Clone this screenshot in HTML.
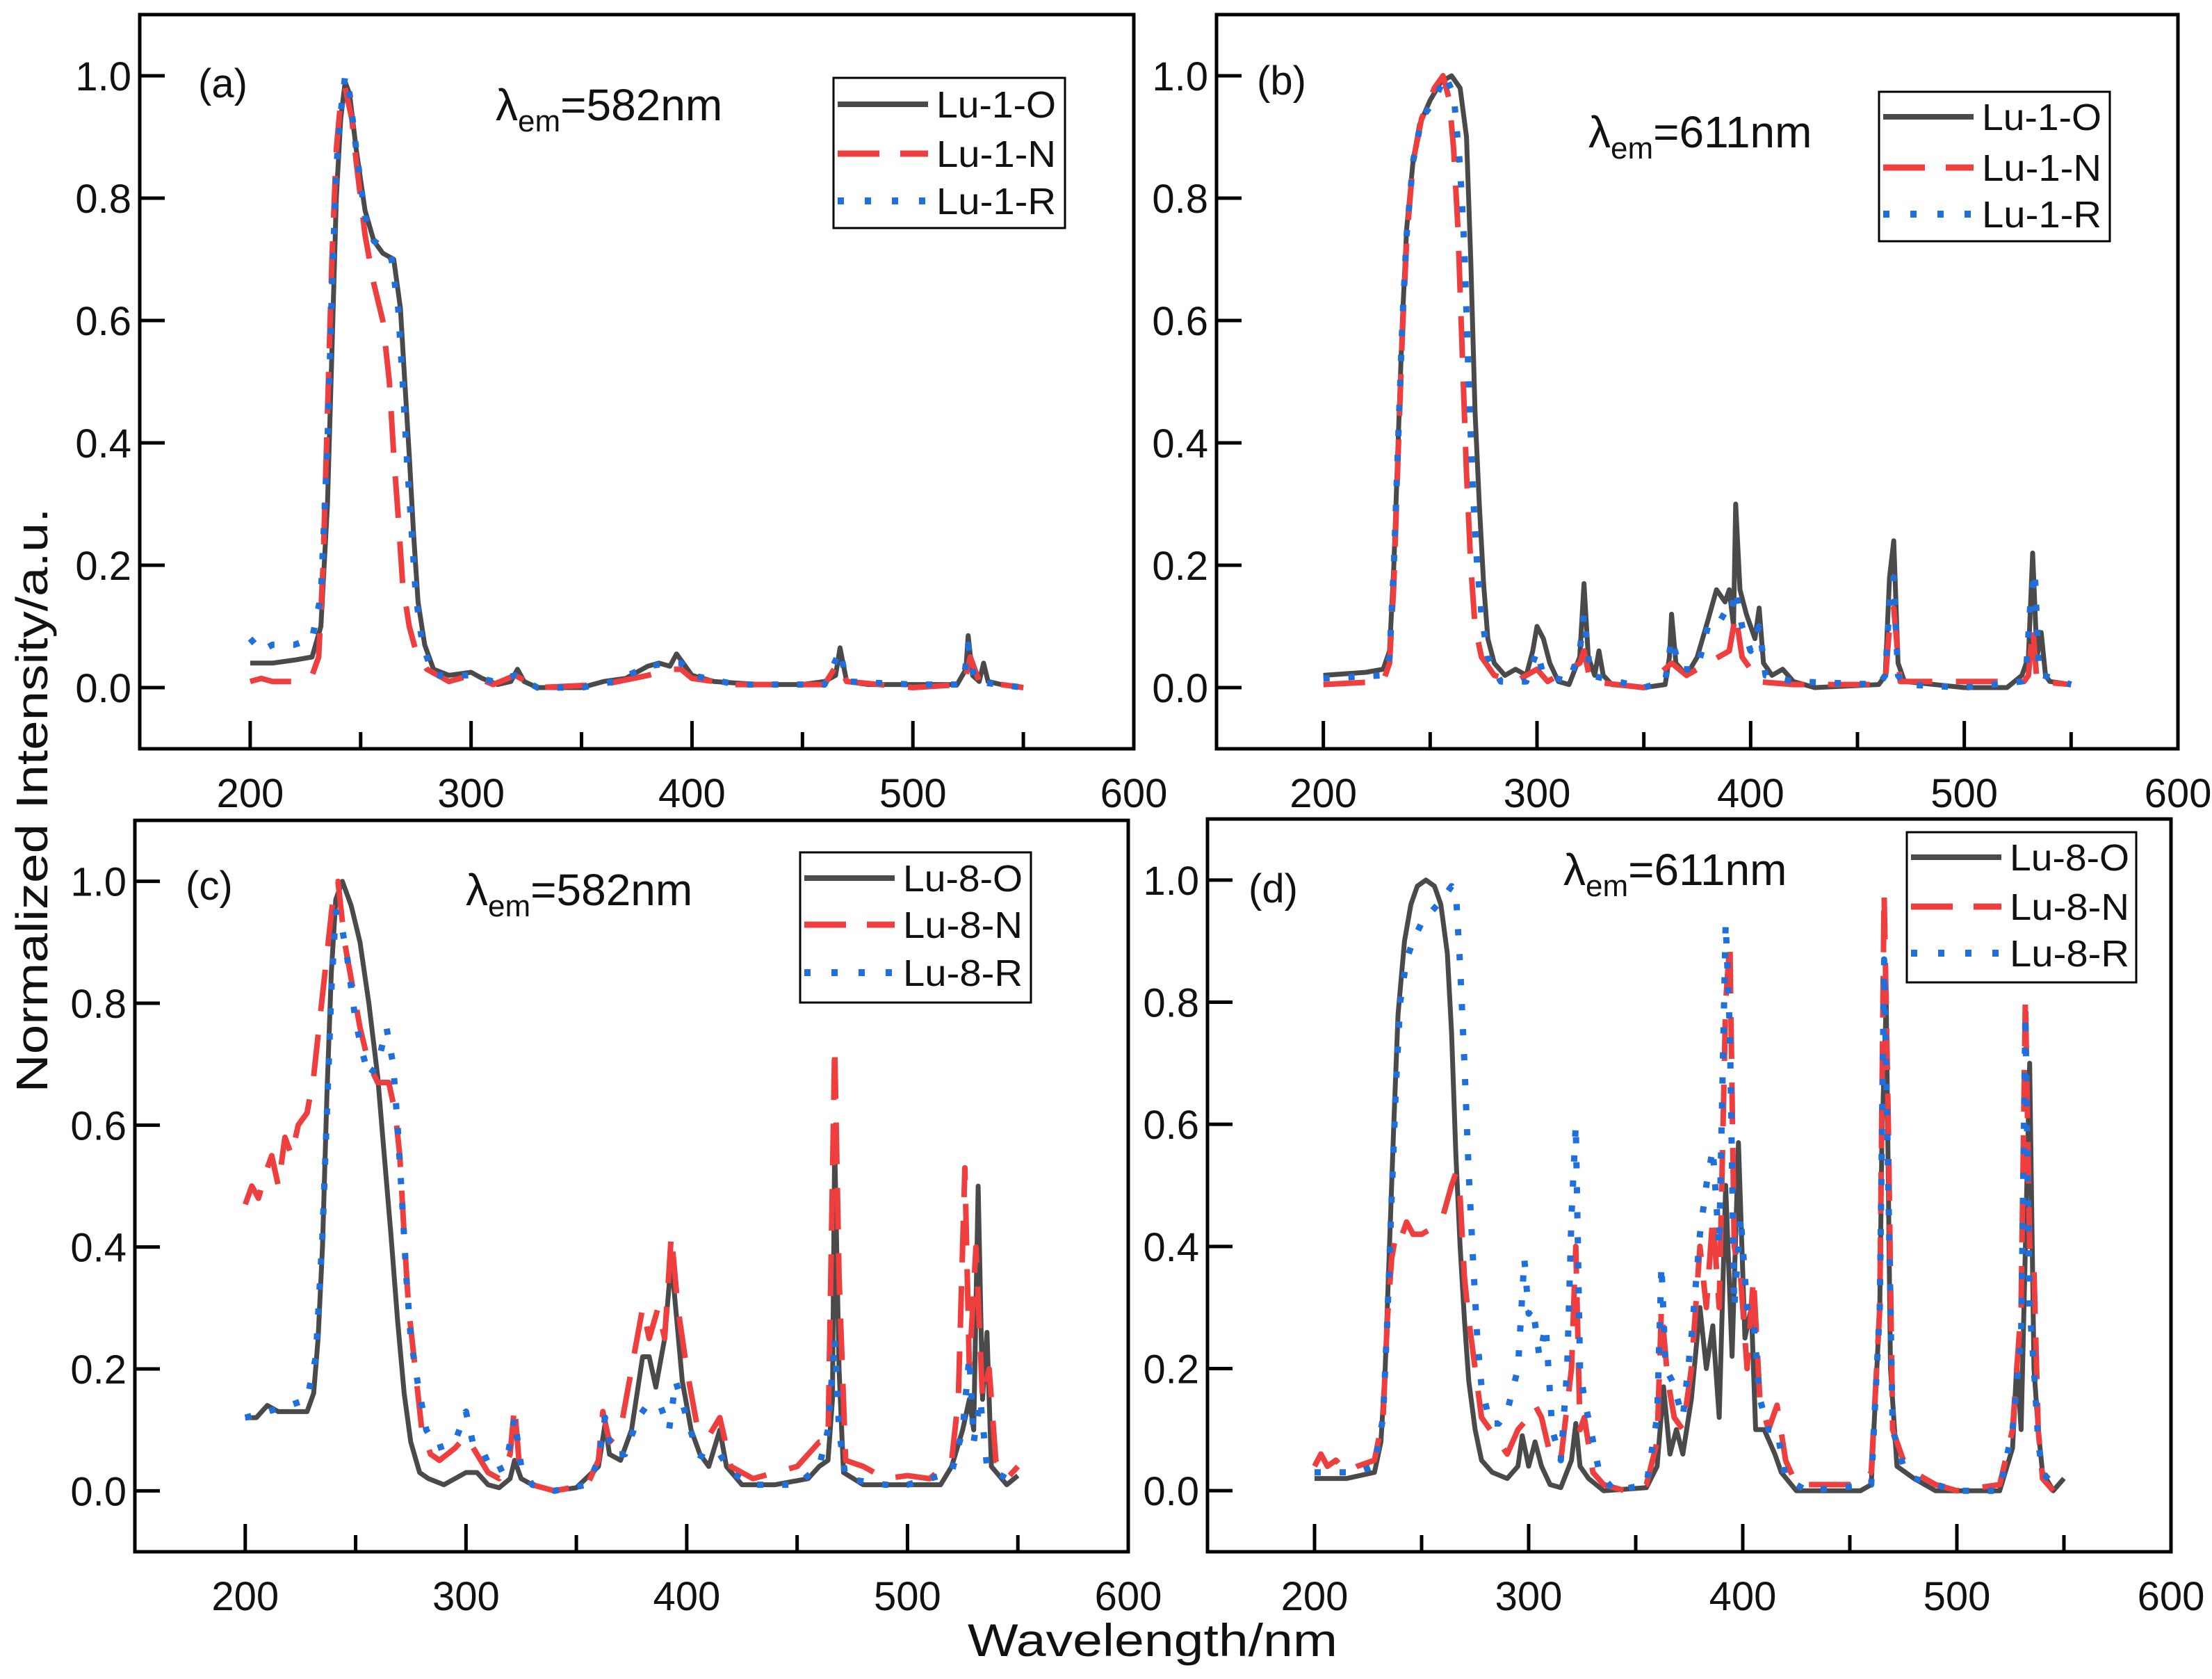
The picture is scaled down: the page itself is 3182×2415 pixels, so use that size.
<!DOCTYPE html>
<html><head><meta charset="utf-8"><style>
html,body{margin:0;padding:0;background:#fff}
svg{display:block}
text{font-family:"Liberation Sans",Arial,sans-serif;fill:#111}
</style></head><body>
<svg id="fig" width="3182" height="2415" viewBox="0 0 3182 2415" xmlns="http://www.w3.org/2000/svg">
<text x="0" y="0" font-size="64" text-anchor="middle" textLength="841" lengthAdjust="spacingAndGlyphs" transform="translate(68,1151) rotate(-90)">Normalized Intensity/a.u.</text>
<text x="1658" y="2382" font-size="66" text-anchor="middle" textLength="532" lengthAdjust="spacingAndGlyphs">Wavelength/nm</text>
</svg>
<script>
// ---- data (wavelength nm, normalized intensity) ----
const xTicks = [200,300,400,500,600];
const xMinor = [250,350,450,550];
const yTicks = [0.0,0.2,0.4,0.6,0.8,1.0];
const yTickLabels = ["0.0","0.2","0.4","0.6","0.8","1.0"];

const a_O = [[200,0.04],[210,0.04],[220,0.045],[228,0.05],[232,0.1],[235,0.3],[237,0.55],[239,0.8],[241,0.93],[243,0.99],[245,0.97],[248,0.88],[252,0.78],[256,0.73],[260,0.71],[265,0.70],[268,0.62],[270,0.5],[272,0.38],[274,0.25],[276,0.14],[279,0.07],[283,0.03],[290,0.02],[300,0.025],[305,0.015],[312,0.005],[318,0.01],[321,0.03],[324,0.01],[330,0],[350,0],[360,0.01],[370,0.015],[380,0.035],[385,0.04],[390,0.035],[393,0.055],[396,0.04],[400,0.02],[410,0.01],[430,0.005],[450,0.005],[460,0.01],[465,0.02],[467,0.065],[470,0.01],[480,0.005],[500,0.005],[520,0.005],[524,0.03],[525,0.085],[527,0.02],[530,0.01],[532,0.04],[534,0.01],[540,0.005],[550,0]];
const a_N = [[200,0.01],[205,0.015],[210,0.01],[220,0.01],[228,0.02],[231,0.05],[233,0.2],[235,0.45],[237,0.7],[239,0.88],[241,0.96],[243,0.98],[246,0.93],[248,0.86],[252,0.74],[256,0.66],[260,0.6],[263,0.5],[265,0.38],[267,0.28],[269,0.17],[272,0.1],[275,0.06],[280,0.03],[290,0.01],[300,0.02],[310,0.005],[320,0.02],[330,0],[360,0.005],[380,0.02],[390,0.03],[395,0.03],[400,0.015],[420,0.005],[460,0.005],[466,0.04],[470,0.01],[500,0],[522,0.005],[524,0.02],[526,0.05],[530,0.01],[550,0]];
const a_R = [[200,0.08],[205,0.06],[210,0.07],[220,0.07],[228,0.08],[232,0.15],[235,0.4],[237,0.65],[239,0.85],[241,0.94],[243,1.0],[245,0.97],[248,0.88],[252,0.77],[256,0.73],[260,0.72],[264,0.7],[267,0.62],[269,0.5],[271,0.37],[273,0.26],[275,0.15],[278,0.07],[283,0.02],[300,0.02],[310,0.01],[320,0.02],[330,0],[350,0],[365,0.01],[380,0.035],[390,0.04],[395,0.04],[400,0.02],[420,0.005],[460,0.005],[467,0.06],[470,0.01],[500,0.005],[520,0.005],[523,0.01],[525,0.07],[528,0.01],[550,0]];

const b_O = [[200,0.02],[220,0.025],[228,0.03],[231,0.06],[233,0.2],[235,0.4],[237,0.6],[239,0.75],[242,0.86],[245,0.92],[250,0.96],[255,0.99],[260,1.0],[264,0.98],[267,0.9],[269,0.7],[271,0.45],[273,0.3],[275,0.17],[277,0.08],[280,0.04],[285,0.02],[290,0.03],[295,0.02],[298,0.06],[300,0.1],[303,0.08],[306,0.04],[310,0.01],[315,0.005],[320,0.05],[322,0.17],[324,0.05],[327,0.02],[329,0.06],[331,0.02],[335,0.005],[350,0],[360,0.005],[362,0.05],[363,0.12],[365,0.04],[370,0.02],[375,0.05],[380,0.11],[384,0.16],[388,0.14],[390,0.16],[392,0.1],[393,0.3],[395,0.16],[398,0.12],[402,0.08],[404,0.13],[406,0.04],[410,0.02],[415,0.03],[420,0.01],[430,0],[460,0.005],[463,0.02],[465,0.18],[467,0.24],[469,0.04],[472,0.01],[500,0],[520,0],[527,0.02],[530,0.05],[532,0.22],[534,0.05],[536,0.09],[538,0.02],[540,0.01],[550,0.005]];
const b_N = [[200,0.005],[228,0.01],[231,0.04],[233,0.17],[235,0.38],[237,0.58],[239,0.73],[242,0.86],[246,0.93],[252,0.98],[256,1.0],[259,0.96],[261,0.88],[263,0.75],[265,0.55],[267,0.35],[269,0.2],[271,0.1],[274,0.05],[280,0.02],[290,0.01],[300,0.03],[305,0.01],[320,0.04],[322,0.06],[325,0.01],[350,0],[363,0.04],[370,0.02],[385,0.05],[390,0.06],[393,0.12],[396,0.05],[400,0.03],[402,0.01],[420,0.005],[460,0.005],[463,0.01],[465,0.1],[467,0.13],[470,0.01],[528,0.01],[530,0.02],[532,0.1],[534,0.01],[550,0.005]];
const b_R = [[200,0.015],[228,0.02],[231,0.05],[233,0.2],[235,0.4],[237,0.6],[239,0.74],[242,0.86],[246,0.93],[252,0.96],[257,1.0],[261,0.97],[264,0.85],[266,0.72],[268,0.5],[270,0.32],[272,0.2],[274,0.12],[277,0.05],[283,0.01],[295,0.01],[300,0.06],[303,0.02],[315,0.01],[320,0.06],[322,0.12],[325,0.02],[350,0],[360,0.01],[363,0.08],[367,0.03],[375,0.03],[380,0.1],[385,0.12],[390,0.11],[393,0.16],[396,0.1],[400,0.06],[404,0.1],[407,0.02],[420,0.01],[460,0.005],[463,0.02],[465,0.14],[467,0.18],[469,0.02],[472,0.005],[500,0],[527,0.01],[529,0.03],[531,0.14],[533,0.19],[535,0.02],[537,0.02],[550,0.005]];

const c_O = [[200,0.12],[205,0.12],[210,0.14],[215,0.13],[220,0.13],[228,0.13],[231,0.16],[233,0.25],[235,0.4],[237,0.65],[239,0.85],[241,0.97],[244,1.0],[248,0.96],[252,0.9],[256,0.8],[260,0.68],[263,0.55],[266,0.42],[269,0.28],[272,0.16],[275,0.08],[279,0.03],[283,0.02],[290,0.01],[300,0.03],[305,0.03],[310,0.01],[315,0.005],[320,0.02],[322,0.05],[325,0.02],[330,0.01],[340,0],[350,0.005],[360,0.04],[363,0.11],[365,0.06],[370,0.05],[375,0.1],[380,0.22],[383,0.22],[386,0.17],[390,0.25],[393,0.38],[395,0.3],[398,0.18],[402,0.1],[406,0.06],[410,0.04],[415,0.1],[418,0.04],[425,0.01],[440,0.01],[455,0.02],[460,0.04],[464,0.05],[466,0.15],[467,0.57],[469,0.2],[471,0.03],[480,0.01],[500,0.01],[515,0.01],[520,0.04],[525,0.1],[528,0.15],[530,0.1],[532,0.5],[534,0.15],[536,0.26],[538,0.04],[545,0.01],[550,0.025]];
const c_N = [[200,0.47],[203,0.5],[206,0.48],[209,0.52],[212,0.55],[215,0.5],[218,0.58],[221,0.55],[224,0.6],[228,0.62],[231,0.68],[234,0.78],[237,0.88],[240,0.98],[242,1.0],[245,0.9],[248,0.84],[252,0.76],[256,0.7],[260,0.67],[265,0.67],[268,0.62],[270,0.55],[272,0.42],[274,0.3],[277,0.2],[280,0.1],[284,0.06],[288,0.05],[295,0.07],[300,0.09],[305,0.06],[310,0.03],[315,0.02],[320,0.06],[322,0.14],[324,0.05],[330,0.01],[340,0],[355,0.01],[360,0.05],[362,0.13],[365,0.08],[370,0.1],[375,0.2],[380,0.3],[383,0.25],[387,0.3],[390,0.25],[393,0.42],[396,0.3],[400,0.2],[405,0.1],[410,0.09],[415,0.12],[420,0.04],[430,0.02],[440,0.03],[450,0.04],[460,0.08],[464,0.08],[467,0.73],[469,0.35],[472,0.05],[480,0.04],[490,0.02],[500,0.025],[510,0.02],[520,0.05],[523,0.15],[526,0.53],[528,0.2],[531,0.4],[534,0.15],[537,0.2],[540,0.05],[545,0.02],[550,0.04]];
const c_R = [[200,0.12],[210,0.13],[220,0.14],[228,0.15],[232,0.22],[235,0.42],[237,0.62],[239,0.82],[241,0.95],[243,0.94],[246,0.88],[250,0.77],[253,0.72],[256,0.68],[260,0.7],[264,0.76],[267,0.7],[269,0.6],[271,0.48],[273,0.35],[275,0.25],[278,0.18],[282,0.1],[287,0.07],[295,0.08],[300,0.13],[303,0.08],[307,0.07],[312,0.03],[318,0.04],[322,0.12],[325,0.04],[330,0.01],[340,0],[355,0.01],[360,0.05],[363,0.12],[366,0.06],[372,0.06],[378,0.12],[382,0.14],[388,0.14],[392,0.1],[395,0.18],[400,0.12],[405,0.06],[410,0.05],[415,0.06],[420,0.03],[430,0.01],[450,0.01],[460,0.04],[464,0.1],[467,0.25],[469,0.1],[472,0.02],[490,0.01],[500,0.01],[520,0.03],[525,0.1],[528,0.22],[530,0.08],[533,0.15],[536,0.04],[540,0.03],[545,0.02]];

const d_O = [[200,0.02],[215,0.02],[228,0.03],[231,0.08],[233,0.2],[235,0.4],[237,0.6],[239,0.78],[242,0.9],[245,0.96],[248,0.99],[252,1.0],[256,0.99],[259,0.96],[262,0.88],[264,0.75],[266,0.55],[268,0.4],[270,0.28],[272,0.18],[275,0.1],[278,0.05],[283,0.03],[290,0.02],[295,0.04],[297,0.09],[300,0.04],[303,0.08],[306,0.04],[310,0.01],[315,0.005],[320,0.05],[322,0.11],[324,0.04],[328,0.02],[335,0],[355,0.005],[360,0.04],[363,0.17],[366,0.06],[369,0.1],[372,0.06],[376,0.15],[380,0.3],[383,0.2],[386,0.27],[389,0.12],[392,0.5],[395,0.22],[398,0.57],[401,0.25],[404,0.3],[406,0.1],[410,0.1],[415,0.06],[418,0.03],[425,0],[455,0],[460,0.01],[464,0.3],[465,0.58],[467,0.8],[469,0.2],[472,0.04],[480,0.02],[490,0],[520,0],[526,0.07],[528,0.21],[530,0.1],[532,0.4],[534,0.7],[536,0.2],[538,0.1],[540,0.03],[545,0],[550,0.02]];
const d_N = [[200,0.04],[203,0.06],[206,0.04],[210,0.05],[215,0.03],[220,0.04],[228,0.05],[232,0.12],[234,0.28],[236,0.38],[238,0.42],[240,0.41],[243,0.44],[246,0.42],[250,0.42],[255,0.43],[260,0.45],[264,0.5],[266,0.52],[268,0.48],[270,0.35],[272,0.28],[275,0.2],[278,0.12],[282,0.1],[286,0.08],[290,0.06],[295,0.1],[300,0.12],[303,0.14],[306,0.12],[310,0.06],[315,0.05],[320,0.2],[322,0.4],[324,0.1],[326,0.12],[330,0.03],[335,0.01],[345,0],[355,0.01],[360,0.08],[362,0.3],[365,0.18],[368,0.12],[372,0.1],[376,0.2],[380,0.4],[383,0.3],[386,0.45],[389,0.3],[392,0.8],[394,0.9],[396,0.4],[399,0.35],[402,0.2],[405,0.35],[408,0.15],[412,0.1],[416,0.14],[420,0.05],[425,0.01],[455,0.01],[460,0.03],[464,0.3],[466,0.98],[468,0.6],[470,0.1],[475,0.05],[480,0.03],[490,0.01],[500,0],[520,0.01],[526,0.1],[528,0.2],[530,0.3],[532,0.81],[534,0.4],[536,0.36],[538,0.1],[540,0.02],[545,0]];
const d_R = [[200,0.03],[210,0.03],[220,0.03],[228,0.04],[232,0.12],[234,0.28],[236,0.48],[238,0.66],[240,0.8],[243,0.87],[246,0.9],[250,0.93],[255,0.95],[260,0.97],[264,0.99],[266,0.98],[268,0.86],[270,0.7],[272,0.52],[274,0.38],[276,0.25],[278,0.17],[282,0.11],[286,0.11],[290,0.13],[295,0.2],[298,0.38],[300,0.29],[302,0.3],[305,0.22],[308,0.27],[311,0.1],[315,0.05],[318,0.2],[320,0.45],[322,0.6],[324,0.2],[326,0.15],[329,0.1],[333,0.03],[340,0],[355,0.01],[360,0.12],[362,0.37],[364,0.2],[367,0.18],[372,0.12],[376,0.25],[380,0.42],[383,0.5],[386,0.56],[389,0.4],[392,0.93],[394,0.75],[396,0.3],[399,0.45],[402,0.3],[405,0.28],[408,0.15],[412,0.1],[416,0.1],[420,0.02],[430,0],[460,0.01],[464,0.3],[466,0.87],[468,0.5],[470,0.1],[475,0.04],[480,0.02],[500,0],[520,0],[526,0.1],[530,0.25],[532,0.78],[534,0.3],[536,0.2],[538,0.08],[540,0.03],[545,0.01]];

const panelLabels = ["(a)","(b)","(c)","(d)"];
const emWavelengths = ["582","611","582","611"];
const legendNames = [["Lu-1-O","Lu-1-N","Lu-1-R"],["Lu-1-O","Lu-1-N","Lu-1-R"],["Lu-8-O","Lu-8-N","Lu-8-R"],["Lu-8-O","Lu-8-N","Lu-8-R"]];
const panelSeries = [[a_O,a_N,a_R],[b_O,b_N,b_R],[c_O,c_N,c_R],[d_O,d_N,d_R]];

// ---- layout ----
const NS = "http://www.w3.org/2000/svg";
const svg = document.getElementById('fig');
const boxes = [
  {L:201,R:1631,T:21,B:1077, lab:[285,140], lam:[713,173], leg:[1199,112,1532,328], legY:[150,221,289]},
  {L:1750,R:3133,T:21,B:1077, lab:[1808,136], lam:[2285,212], leg:[2703,132,3035,347], legY:[168,241,308]},
  {L:194,R:1623,T:1180,B:2232, lab:[267,1294], lam:[670,1302], leg:[1151,1226,1483,1442], legY:[1263,1330,1399]},
  {L:1737,R:3123,T:1178,B:2232, lab:[1796,1298], lam:[2249,1273], leg:[2743,1197,3073,1413], legY:[1233,1304,1371]}
];
const styles = [
  {stroke:"#4a4a4a", w:7, dash:null},
  {stroke:"#ef3e3e", w:8, dash:"60 34"},
  {stroke:"#1f6fdc", w:9, dash:"9 27"}
];
function el(tag, attrs, parent){
  const e = document.createElementNS(NS, tag);
  for (const k in attrs) e.setAttribute(k, attrs[k]);
  (parent||svg).appendChild(e);
  return e;
}

boxes.forEach((b, pi) => {
  const xs = v => b.L + (v - 150) / 450 * (b.R - b.L);
  const ys = v => b.B - (v + 0.1) / 1.2 * (b.B - b.T);
  const g = el('g', {});
  
  

  panelSeries[pi].forEach((s, si) => {
    const d = s.map((p, i) => (i ? 'L' : 'M') + xs(p[0]).toFixed(1) + ' ' + ys(p[1]).toFixed(1)).join(' ');
    const st = styles[si];
    const path = el('path', {d:d, fill:'none', stroke:st.stroke, 'stroke-width':st.w, 'stroke-linejoin':'round'}, g);
    if (st.dash) path.setAttribute('stroke-dasharray', st.dash);
    
    
  });

  const frame = el('rect', {x:b.L, y:b.T, width:b.R-b.L, height:b.B-b.T, fill:'none', stroke:'#000', 'stroke-width':5}, g);
  
  

  xTicks.forEach(t => {
    const x = xs(t);
    if (t < 600) el('line', {x1:x, x2:x, y1:b.B, y2:b.B-40, stroke:'#000', 'stroke-width':5}, g);
    const tx = el('text', {x:x, y:b.B+84, 'font-size':58, 'text-anchor':'middle'}, g);
    tx.textContent = t;
    
    
  });
  xMinor.forEach(t => {
    const x = xs(t);
    el('line', {x1:x, x2:x, y1:b.B, y2:b.B-24, stroke:'#000', 'stroke-width':5}, g);
  });
  yTicks.forEach((t, i) => {
    const y = ys(t);
    el('line', {x1:b.L, x2:b.L+36, y1:y, y2:y, stroke:'#000', 'stroke-width':5}, g);
    const ty = el('text', {x:b.L-12, y:y+21, 'font-size':58, 'text-anchor':'end'}, g);
    ty.textContent = yTickLabels[i];
    
    
  });

  const pl = el('text', {x:b.lab[0], y:b.lab[1], 'font-size':58}, g);
  pl.textContent = panelLabels[pi];
  
  

  const lt = el('text', {x:b.lam[0], y:b.lam[1], 'font-size':64}, g);
  
  
  const t1 = el('tspan', {}, lt); t1.textContent = 'λ';
  const t2 = el('tspan', {'font-size':44, dy:16}, lt); t2.textContent = 'em';
  const t3 = el('tspan', {dy:-16}, lt); t3.textContent = '=' + emWavelengths[pi] + 'nm';

  const lg = el('g', {}, g);
  
  
  const [lx1, ly1, lx2, ly2] = b.leg;
  el('rect', {x:lx1, y:ly1, width:lx2-lx1, height:ly2-ly1, fill:'#fff', stroke:'#000', 'stroke-width':3}, lg);
  b.legY.forEach((yy, si) => {
    const st = styles[si];
    const ln = el('line', {x1:lx1+6, x2:lx1+136, y1:yy, y2:yy, stroke:st.stroke, 'stroke-width':st.w+1}, lg);
    if (st.dash) ln.setAttribute('stroke-dasharray', si === 1 ? '60 30' : '9 30');
    const tt = el('text', {x:lx1+148, y:yy+19, 'font-size':54, textLength:172, lengthAdjust:'spacingAndGlyphs'}, lg);
    tt.textContent = legendNames[pi][si];
    
    
  });
});
</script>
</body></html>
